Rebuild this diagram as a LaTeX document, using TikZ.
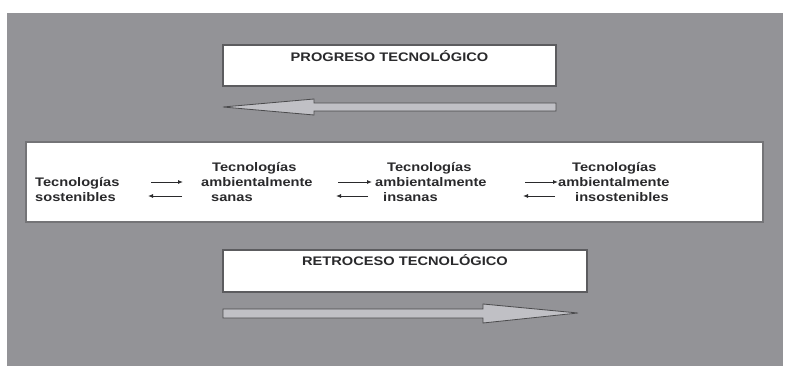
\documentclass[tikz,border=0pt]{standalone}
\usepackage{fontspec}
\setmainfont{Liberation Sans}[FakeStretch=1.18]
\usepackage{tikz}
\usepackage{xcolor}
\usetikzlibrary{arrows.meta,positioning,calc}
\definecolor{panelGray}{RGB}{147,147,151}
\definecolor{frameGray}{RGB}{92,92,95}
\definecolor{arrowGray}{RGB}{192,192,197}
\definecolor{inkGray}{RGB}{42,42,44}

\begin{document}
\begin{tikzpicture}[
            x=1pt, y=-1pt,
            titlebox/.style={rectangle, draw=frameGray, line width=1.6pt, fill=white, inner sep=0pt},
            mainbox/.style={rectangle, draw=frameGray!85, line width=1.6pt, fill=white, inner sep=0pt},
            title/.style={font=\bfseries\fontsize{12.4}{15}\selectfont, text=inkGray, inner sep=0pt},
            techlabel/.style={font=\bfseries\fontsize{12.4}{15}\selectfont, text=inkGray, align=left, inner sep=0pt},
            blockarrow/.style={draw=frameGray!80!black, fill=arrowGray, line width=0.8pt, line join=miter},
            smallarrow/.style={-{Latex[length=5pt,width=4pt]}, line width=0.9pt, inkGray}
        ]
            \useasboundingbox (0,0) rectangle (794,366);
            \fill[panelGray] (7,13) rectangle (783,366);

            % progreso
            \node[titlebox, minimum width=333pt, minimum height=41pt] (progreso) at (389.5,65.5) {};
            \node[title, anchor=base] (progresoText) at ($(progreso.north)+(0,17)$) {PROGRESO TECNOL\'OGICO};
            \draw[blockarrow] (223,107) -- (314,99) -- (314,103) -- (556,103) -- (556,111) -- (314,111) -- (314,115) -- cycle;

            % tecnologias
            \node[mainbox, minimum width=737pt, minimum height=80pt] (tecnologias) at (394.5,182) {};
            \node[techlabel, anchor=north west] (sostenibles) at (35,177) {Tecnolog\'ias\\sostenibles};
            \node[techlabel, anchor=north west] (sanas) at (201,162) {\hspace{11pt}Tecnolog\'ias\\ambientalmente\\\hspace{10pt}sanas};
            \node[techlabel, anchor=north west] (insanas) at (375,162) {\hspace{12pt}Tecnolog\'ias\\ambientalmente\\\hspace{8pt}insanas};
            \node[techlabel, anchor=north west] (insostenibles) at (558,162) {\hspace{14pt}Tecnolog\'ias\\ambientalmente\\\hspace{17pt}insostenibles};

            \foreach \xa/\xb [count=\i] in {151/183, 338/372, 525/558} {
                \coordinate (fwdStart\i) at (\xa,182);
                \coordinate (fwdEnd\i) at (\xb,182);
                \draw[smallarrow] (fwdStart\i) -- (fwdEnd\i);
            }
            \foreach \xa/\xb [count=\i] in {182/148, 368/336, 555/523} {
                \coordinate (backStart\i) at (\xa,196);
                \coordinate (backEnd\i) at (\xb,196);
                \draw[smallarrow] (backStart\i) -- (backEnd\i);
            }

            % retroceso
            \node[titlebox, minimum width=364pt, minimum height=42pt] (retroceso) at (405,271) {};
            \node[title, anchor=base] (retrocesoText) at ($(retroceso.north)+(0,16)$) {RETROCESO TECNOL\'OGICO};
            \draw[blockarrow] (223,309) -- (483,309) -- (483,304) -- (578,313) -- (483,323) -- (483,318) -- (223,318) -- cycle;
        \end{tikzpicture}
\end{document}
